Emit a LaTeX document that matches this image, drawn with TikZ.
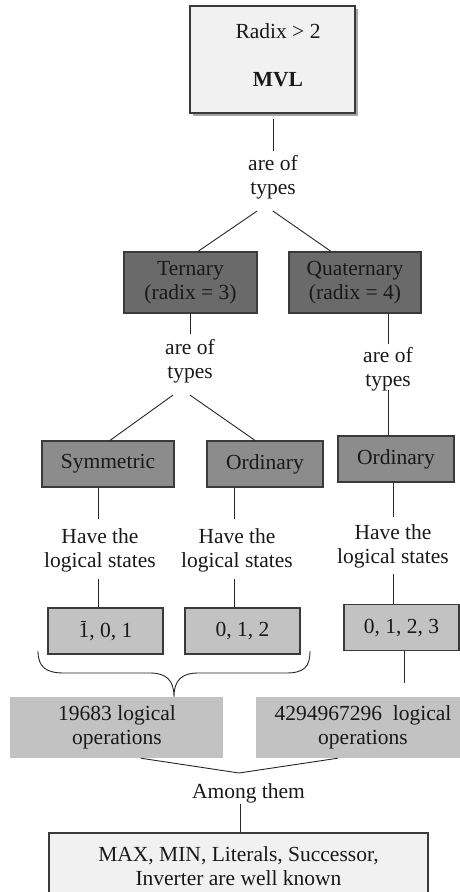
\documentclass[tikz,border=0pt]{standalone}
\usepackage{fontspec}
\setmainfont{Liberation Serif}
\usetikzlibrary{shadows,calc}
\definecolor{boxlight}{HTML}{F1F1F1}
\definecolor{boxdark}{HTML}{6A6A6A}
\definecolor{boxmid}{HTML}{8C8C8C}
\definecolor{boxstate}{HTML}{C2C2C2}
\definecolor{edgecol}{HTML}{3A3A3A}
\newcommand{\barone}{\makebox[0pt][l]{\hspace{2.5pt}\rule[16pt]{5pt}{1pt}}1}
\begin{document}
\begin{tikzpicture}[x=1pt,y=-1pt,
  every node/.style={font=\fontsize{21.5}{24}\selectfont, text=black!90},
  base/.style={draw=edgecol, line width=1.2pt, inner sep=0pt, align=center},
  topbox/.style={base, fill=boxlight, minimum width=165pt, minimum height=107pt,
     drop shadow={shadow xshift=2.5pt, shadow yshift=-2.5pt, fill=gray!70, opacity=1}},
  darkbox/.style={base, fill=boxdark, minimum height=61pt},
  midbox/.style={base, fill=boxmid, minimum width=116pt, minimum height=46pt},
  statebox/.style={base, fill=boxstate, minimum width=115pt, minimum height=46pt},
  opsbox/.style={fill=boxstate, inner sep=0pt, minimum height=61pt},
  lastbox/.style={base, fill=boxlight, minimum width=379pt, minimum height=62pt},
  label/.style={align=center, inner sep=0pt},
  conn/.style={draw=black!85, line width=0.9pt}]
\useasboundingbox (0,0) rectangle (460,892);

% top box
\node[topbox] (mvl) at (272.5,59.5) {};
\node[label] (radix) at (278,31.5) {Radix > 2};
\node[label] (mvlt) at (278,79.5) {\textbf{MVL}};
\node[label] (aot1) at (273,177) {are of\\types};

% second level
\node[darkbox, minimum width=133pt] (tern) at (190.5,282.5) {Ternary\\(radix = 3)};
\node[darkbox, minimum width=132pt] (quat) at (355,282.5) {Quaternary\\(radix = 4)};
\node[label] (aot2) at (190,361) {are of\\types};
\node[label] (aot3) at (388,369) {are of\\types};

% third level
\node[midbox, minimum width=132pt] (sym) at (108,464) {Symmetric};
\node[midbox] (ord1) at (265,464) {Ordinary};
\node[midbox] (ord2) at (396,459) {Ordinary};

\node[label] (hv1) at (100,550) {Have the\\logical states};
\node[label] (hv2) at (237,550) {Have the\\logical states};
\node[label] (hv3) at (393,546) {Have the\\logical states};

\node[statebox] (st1) at (105.5,631) {\barone, 0, 1};
\node[statebox] (st2) at (242.5,631) {0, 1, 2};
\node[statebox] (st3) at (401.5,627.5) {0, 1, 2, 3};

% operations
\node[opsbox, minimum width=213pt] (ops1) at (116.5,727.5) {};
\node[label] (ops1t) at (117,727) {19683 logical\\operations};
\node[opsbox, minimum width=204pt] (ops2) at (358,727.5) {};
\node[label] (ops2t) at (363,727) {4294967296\ \ logical\\operations};

\node[label] (among) at (248.5,793) {Among them};
\node[lastbox] (last) at (238.5,864) {};
\node[label] (lastt) at (238.5,866) {MAX, MIN, Literals, Successor,\\Inverter are well known};

% connectors
\draw[conn] ([xshift=0.5pt,yshift=-5pt]mvl.south) -- ([yshift=4pt]aot1.north);
\draw[conn] ([xshift=-16pt,yshift=-12pt]aot1.south) -- ([xshift=7.5pt]tern.north);
\draw[conn] ([xshift=0pt,yshift=-12pt]aot1.south) -- ([xshift=-24pt]quat.north);

\draw[conn] ([xshift=-0.5pt]tern.south) -- ([yshift=5pt]aot2.north);
\draw[conn] ([xshift=-17pt,yshift=-12pt]aot2.south) -- ([xshift=2pt]sym.north);
\draw[conn] ([xshift=0pt,yshift=-12pt]aot2.south) -- ([xshift=-10pt]ord1.north);

\draw[conn] ([xshift=33pt]quat.south) -- ([yshift=3pt]aot3.north);
\draw[conn] ([yshift=1pt]aot3.south) -- ([xshift=-8pt]ord2.north);

\draw[conn] ([xshift=-10pt]sym.south) -- ([xshift=-2pt,yshift=9pt]hv1.north);
\draw[conn] ([xshift=-2pt,yshift=-7pt]hv1.south) -- ([xshift=-7.5pt]st1.north);
\draw[conn] ([xshift=-31pt]ord1.south) -- ([xshift=-3pt,yshift=9pt]hv2.north);
\draw[conn] ([xshift=-3pt,yshift=-7pt]hv2.south) -- ([xshift=-8.5pt]st2.north);
\draw[conn] ([xshift=-3pt]ord2.south) -- ([yshift=7pt]hv3.north);
\draw[conn] ([yshift=-6pt]hv3.south) -- ([xshift=-8.5pt]st3.north);

\coordinate (st3end) at ($(st3.south)+(2.5,32)$);
\draw[conn] ([xshift=2.5pt]st3.south) -- (st3end);

% brace
\coordinate (bl) at (38,651);
\coordinate (br) at (310,651);
\coordinate (tip) at (ops1.north -| 174,0);
\draw[conn] (bl) .. controls (38,667) and (46,673) .. (64,673)
  -- (150,673) .. controls (166,673) and (174,680) .. (tip)
  .. controls (174,680) and (182,673) .. (198,673)
  -- (286,673) .. controls (304,673) and (310,667) .. (br);

% merge into "Among them"
\coordinate (mrg) at (239,773);
\draw[conn] ([xshift=131pt]ops1.south west) -- (mrg) -- ([xshift=82pt]ops2.south west);
\draw[conn] ([xshift=-8.5pt,yshift=-1pt]among.south) -- ([xshift=1.5pt]last.north);
\end{tikzpicture}
\end{document}
